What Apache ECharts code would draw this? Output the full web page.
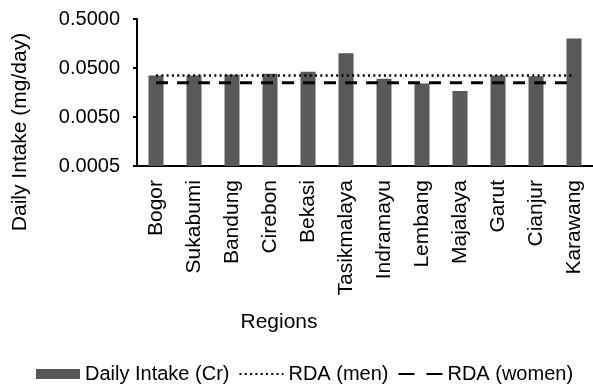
<!DOCTYPE html>
<html>
<head>
<meta charset="utf-8">
<script src="https://cdn.jsdelivr.net/npm/echarts@6/dist/echarts.min.js"></script>
<style>
  html, body { margin: 0; padding: 0; background: #fff; }
  #chart { width: 593px; height: 385px; }
</style>
</head>
<body>
<div id="chart"></div>
<script>
var regions = ['Bogor', 'Sukabumi', 'Bandung', 'Cirebon', 'Bekasi', 'Tasikmalaya',
  'Indramayu', 'Lembang', 'Majalaya', 'Garut', 'Cianjur', 'Karawang']
var dailyIntake = [0.035, 0.035, 0.0365, 0.038, 0.042, 0.10, 0.030, 0.024, 0.017, 0.035, 0.034, 0.20]
var rdaMen = 0.035
var rdaWomen = 0.025
var yTicks = [0.0005, 0.005, 0.05, 0.5]

// log axis faked on a value axis: 0 = 0.0005, 1 per decade
var base = yTicks[0]
function toLog(v) { return Math.log10(v / base) }

var font = "'Liberation Sans', Arial, sans-serif"
var chart = echarts.init(document.getElementById('chart'))

var option = {
  animation: false,
  textStyle: { fontFamily: font, color: '#000' },
  grid: { left: 137, right: -1, top: 19, bottom: 219 },
  legend: {
    left: 31,
    top: 359,
    itemWidth: 44,
    itemHeight: 10,
    itemGap: 9,
    textStyle: { fontSize: 20, color: '#000', fontFamily: font },
    data: [
      { name: 'Daily Intake (Cr)', icon: 'rect' },
      { name: 'RDA (men)', itemStyle: { opacity: 0 } },
      { name: 'RDA (women)', itemStyle: { opacity: 0 }, lineStyle: { type: [16, 12] } }
    ]
  },
  xAxis: {
    type: 'category',
    data: regions,
    axisLine: { lineStyle: { color: '#000', width: 2 } },
    axisTick: { length: 6, lineStyle: { color: '#000', width: 2 } },
    axisLabel: { rotate: 90, margin: 14, fontSize: 21, color: '#000', fontFamily: font, interval: 0 }
  },
  yAxis: {
    type: 'value',
    min: 0,
    max: toLog(yTicks[yTicks.length - 1]),
    interval: 1,
    splitLine: { show: false },
    axisLine: { show: true, lineStyle: { color: '#000', width: 2 } },
    axisTick: { show: true, length: 4, lineStyle: { color: '#000', width: 2 } },
    axisLabel: {
      margin: 17, fontSize: 20, color: '#000', fontFamily: font,
      formatter: function (v) { return (base * Math.pow(10, v)).toFixed(4) }
    }
  },
  graphic: [
    {
      type: 'text', x: 20, y: 132, rotation: Math.PI / 2,
      style: { text: 'Daily Intake (mg/day)', font: '21px ' + font, fill: '#000', align: 'center', verticalAlign: 'middle' }
    },
    {
      type: 'text', x: 279, y: 322,
      style: { text: 'Regions', font: '21px ' + font, fill: '#000', align: 'center', verticalAlign: 'middle' }
    }
  ],
  series: [
    {
      name: 'Daily Intake (Cr)',
      type: 'bar',
      barWidth: 15,
      itemStyle: { color: '#595959' },
      data: dailyIntake.map(toLog)
    },
    {
      name: 'RDA (men)',
      type: 'line',
      symbol: 'none',
      lineStyle: { color: '#000', width: 2.5, type: [2, 3.3] },
      itemStyle: { color: '#000' },
      data: regions.map(function () { return toLog(rdaMen) })
    },
    {
      name: 'RDA (women)',
      type: 'line',
      symbol: 'none',
      lineStyle: { color: '#000', width: 3, type: [12, 9] },
      itemStyle: { color: '#000' },
      data: regions.map(function () { return toLog(rdaWomen) })
    }
  ]
}
chart.setOption(option)
window.addEventListener('resize', function () { chart.resize() })
</script>
</body>
</html>
